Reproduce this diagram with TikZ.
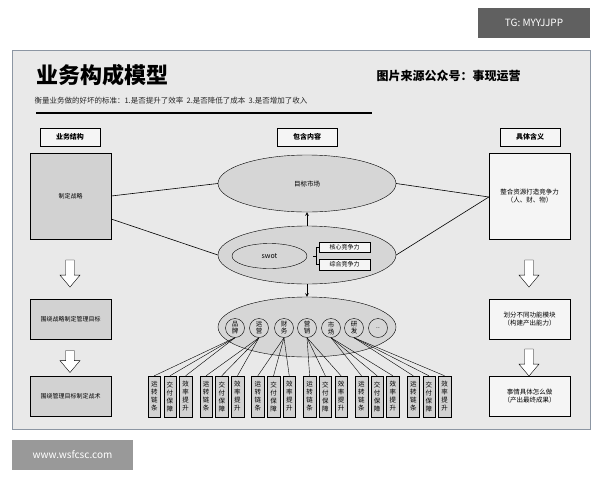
\documentclass[tikz,border=0pt]{standalone}
\usepackage{fontspec}
\setmainfont{Noto Sans CJK SC}
\usetikzlibrary{shapes.geometric,shapes.arrows,positioning}
\definecolor{panelbg}{HTML}{E9E9E9}
\definecolor{panelline}{HTML}{8C96A3}
\definecolor{boxgray}{HTML}{D2D2D2}
\definecolor{ellgray}{HTML}{D6D6D6}
\definecolor{boxlight}{HTML}{F5F5F5}
\tikzset{
  headbox/.style={draw,fill=boxlight,minimum width=60,minimum height=18,inner sep=0,font=\fontsize{7}{8}\selectfont\bfseries},
  leftbox/.style={draw,fill=boxgray,minimum width=81,inner sep=0,font=\fontsize{6}{8}\selectfont},
  rightbox/.style={draw,fill=boxlight,minimum width=81,inner sep=0,align=center,font=\fontsize{6.5}{8}\selectfont},
  bigell/.style={draw,ellipse,fill=ellgray,minimum width=178,minimum height=57,inner sep=0,font=\fontsize{6.5}{8}\selectfont},
  tagbox/.style={draw,fill=boxlight,minimum width=51,minimum height=10.5,inner sep=0,font=\fontsize{6}{7}\selectfont},
  func/.style={draw,circle,fill=ellgray,minimum size=19,inner sep=0,align=center,font=\fontsize{6.5}{7}\selectfont},
  chain/.style={draw,fill=boxgray,minimum width=12.5,minimum height=41,inner sep=0,align=center,font=\fontsize{6.5}{8}\selectfont},
  hollow/.style={draw,fill=white,single arrow,shape border rotate=270,minimum height=27,minimum width=20,single arrow head extend=3,single arrow tip angle=80,inner sep=2},
  conn/.style={semithick},
  flow/.style={semithick,->,>=stealth}
}
\begin{document}
\begin{tikzpicture}[x=1pt,y=-1pt]
  \useasboundingbox (0,0) rectangle (600,480);
  % tags outside the panel
  \fill[gray!75!black] (478,8) rectangle (590,38);
  \node[white,font=\fontsize{10}{12}\selectfont] (tg) at (534,23) {TG: MYYJJPP};
  \fill[gray!80] (12,440) rectangle (133,470);
  \node[white,font=\fontsize{10}{12}\selectfont] (site) at (72.5,455) {www.wsfcsc.com};

  % panel
  \draw[panelline,fill=panelbg,thick] (12,50) rectangle (590,429);
  \node[anchor=west,font=\fontsize{22}{24}\selectfont\bfseries] (title) at (33,75) {业务构成模型};
  \node[anchor=west,font=\fontsize{12}{14}\selectfont\bfseries] (source) at (373,76) {图片来源公众号：事现运营};
  \node[anchor=west,gray!30!black,font=\fontsize{7.5}{9}\selectfont] (rule) at (31,101) {衡量业务做的好坏的标准：1.是否提升了效率\ \ 2.是否降低了成本\ \ 3.是否增加了收入};
  \draw[line width=2pt] (36,113) -- (372,113);

  % column heads
  \node[headbox] (hstruct) at (70,137) {业务结构};
  \node[headbox] (hcont) at (307,137) {包含内容};
  \node[headbox] (hmean) at (530,137) {具体含义};

  % left column
  \node[leftbox,minimum height=86] (strat) at (70.5,196) {制定战略};
  \node[leftbox,minimum height=40] (goal) at (70.5,319) {围绕战略制定管理目标};
  \node[leftbox,minimum height=40] (tact) at (70.5,396) {围绕管理目标制定战术};
  \node[hollow] (la1) at (70,271) {};
  \node[hollow,minimum height=22] (la2) at (70,359) {};

  % right column
  \node[rightbox,minimum height=86] (integ) at (529.5,196) {整合资源打造竞争力\\（人、财、物）};
  \node[rightbox,minimum height=40] (split) at (529.5,319) {划分不同功能模块\\（构建产出能力）};
  \node[rightbox,minimum height=40] (todo) at (529.5,396) {事情具体怎么做\\（产出最终成果）};
  \node[hollow] (ra1) at (529,271) {};
  \node[hollow] (ra2) at (529,360) {};

  % middle ellipses
  \node[bigell] (market) at (307,183.5) {目标市场};
  \node[bigell,minimum height=58] (comp) at (307,255) {};
  \node[draw,ellipse,fill=ellgray,minimum width=75,minimum height=25,inner sep=0,font=\fontsize{7}{8}\selectfont] (swot) at (269.5,256) {swot};
  \node[tagbox] (core) at (344.5,247) {核心竞争力};
  \node[tagbox] (total) at (344.5,264.5) {综合竞争力};
  \draw (core.west) -- ++(-3,0) |- (total.west);
  \draw (316,256) -- (313,256);
  \node[bigell,minimum height=60] (modules) at (307,327) {};
  \draw[flow] (comp.north) -- (market.south);
  \draw[flow] (comp.south) -- (modules.north);

  % connectors
  \draw[conn] (strat.east |- 0,196) -- (market.west);
  \draw[conn] (strat.east |- 0,219) -- (comp.west);
  \draw[conn] (market.east) -- (integ.west |- 0,197);
  \draw[conn] (comp.east) -- (integ.west |- 0,197);

  % functions and their chains
  \foreach \i/\x/\t in {1/235/品\\牌,2/259/运\\营,3/284/财\\务,4/307/营\\销,5/331/市\\场,6/354/研\\发}{
    \node[func] (f\i) at (\x,328) {\t};
    \foreach \j/\s in {0/运\\转\\链\\条,1/交\\付\\保\\障,2/效\\率\\提\\升}{
      \node[chain] (c\i\j) at ({148+6.25+(\i-1)*51.8+\j*15.7},396.5) {\s};
      \draw (f\i.south) -- (c\i\j.north);
    }
  }
  \node[func] (f7) at (378,328) {..};
\end{tikzpicture}
\end{document}
